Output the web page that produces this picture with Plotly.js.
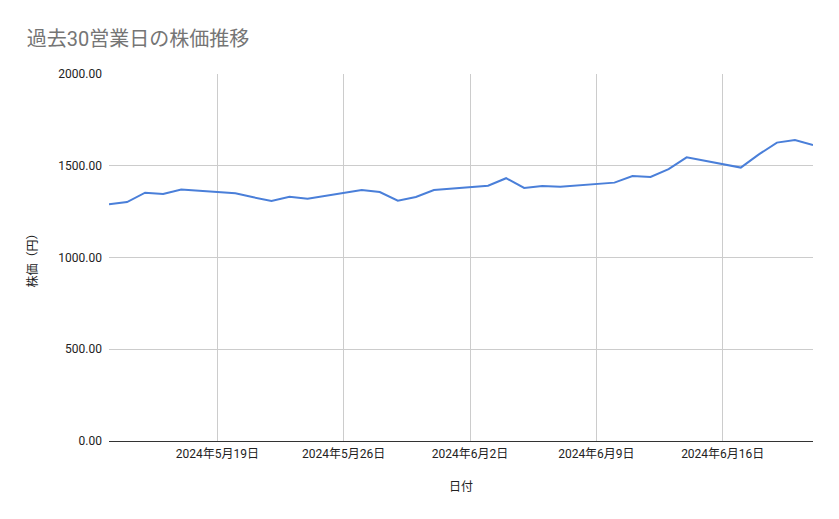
<!DOCTYPE html>
<html><head><meta charset="utf-8">
<script src="https://cdn.plot.ly/plotly-3.0.1.min.js"></script>
<style>html,body{margin:0;padding:0;background:#fff;}#chart{width:839px;height:519px;}</style>
</head><body><div id="chart"></div>
<script>
const dates = ["2024-05-13","2024-05-14","2024-05-15","2024-05-16","2024-05-17",
  "2024-05-20","2024-05-21","2024-05-22","2024-05-23","2024-05-24",
  "2024-05-27","2024-05-28","2024-05-29","2024-05-30","2024-05-31",
  "2024-06-03","2024-06-04","2024-06-05","2024-06-06","2024-06-07",
  "2024-06-10","2024-06-11","2024-06-12","2024-06-13","2024-06-14",
  "2024-06-17","2024-06-18","2024-06-19","2024-06-20","2024-06-21"];
const prices = [1290,1302,1353,1346,1371,
  1350,1328,1308,1331,1320,
  1368,1357,1310,1330,1368,
  1391,1432,1379,1390,1386,
  1408,1444,1439,1482,1546,
  1490,1562,1626,1640,1613];
const xTickVals = ["2024-05-19","2024-05-26","2024-06-02","2024-06-09","2024-06-16"];
const yTickVals = [0,500,1000,1500,2000];
const yTickText = ["0.00","500.00","1000.00","1500.00","2000.00"];
const titleText = "過去30営業日の株価推移";
const xTitle = "日付";
const yTitle = "株価（円）";

const FONT = "Roboto, 'Noto Sans CJK JP', sans-serif";
Plotly.newPlot("chart", [{
  x: dates, y: prices, type: "scatter", mode: "lines",
  line: {color: "#4a7fd9", width: 2}, hoverinfo: "x+y"
}], {
  width: 839, height: 519,
  margin: {l: 109, r: 26, t: 74, b: 78},
  paper_bgcolor: "#fff", plot_bgcolor: "#fff",
  font: {family: FONT, size: 12, color: "#222"},
  title: {text: titleText, x: 0.032, xanchor: "left", y: 0.925, yanchor: "middle",
    font: {family: FONT, size: 20, color: "#757575"}},
  showlegend: false,
  xaxis: {
    type: "date", range: ["2024-05-13", "2024-06-21"],
    tickvals: xTickVals, tickformat: "%Y年%-m月%-d日",
    showgrid: true, gridcolor: "#cccccc", gridwidth: 1,
    showline: false, zeroline: false, ticks: "", ticklabelstandoff: 4,
    tickfont: {family: FONT, size: 12, color: "#222"},
    title: {text: xTitle, font: {family: FONT, size: 12, color: "#222"}, standoff: 22}
  },
  yaxis: {
    range: [0, 2000], tickvals: yTickVals, ticktext: yTickText,
    showgrid: true, gridcolor: "#cccccc", gridwidth: 1,
    zeroline: true, zerolinecolor: "#333333", zerolinewidth: 1,
    showline: false, ticks: "", ticklabelstandoff: 6,
    tickfont: {family: FONT, size: 12, color: "#222"},
    title: {text: yTitle, font: {family: FONT, size: 12, color: "#222"}, standoff: 18}
  }
}, {staticPlot: true});
</script></body></html>
